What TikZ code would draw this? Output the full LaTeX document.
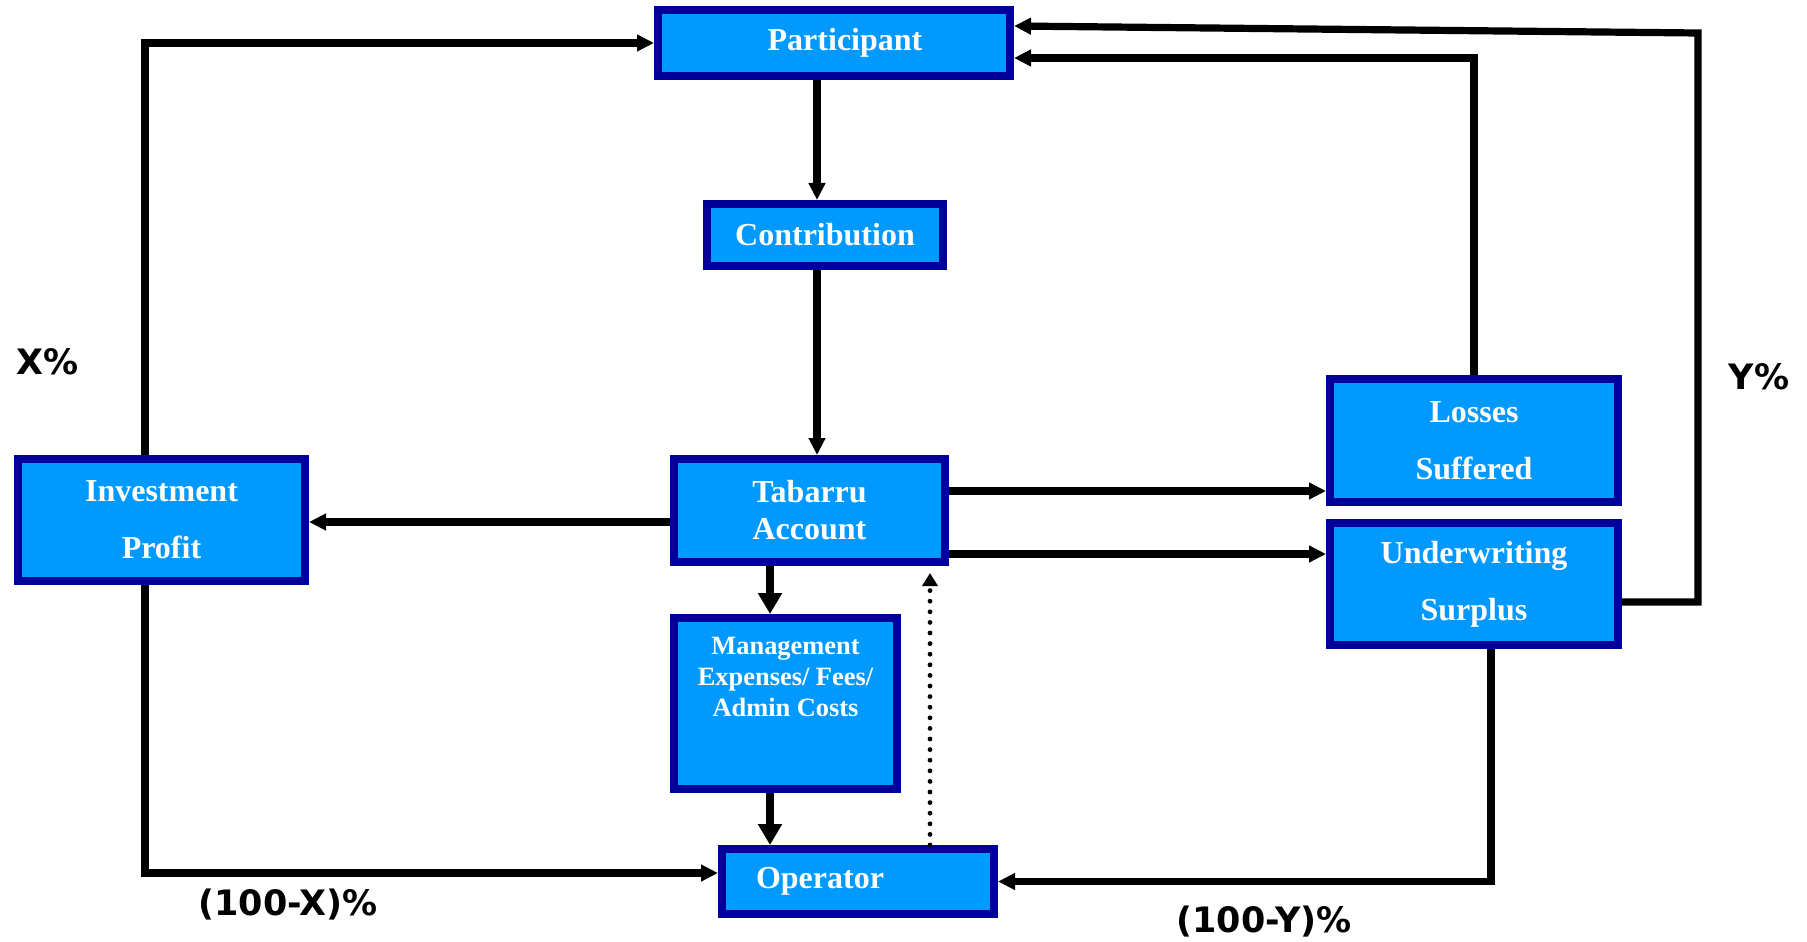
\documentclass[tikz,border=0pt]{standalone}
\usepackage{fontspec}
\setmainfont{Liberation Serif}
\newfontfamily\labfont{DejaVu Sans}
\usetikzlibrary{arrows.meta}
\definecolor{boxfill}{HTML}{0099FF}
\definecolor{boxline}{HTML}{000099}
\tikzset{blk/.style={draw=boxline,fill=boxfill,line width=4pt,inner sep=0pt,text=white,align=center,font=\fontsize{16}{18.5}\selectfont\bfseries},
    flow/.style={line width=3.6pt,-{Triangle[length=8.5pt,width=8pt]}},
    bigflow/.style={line width=4.2pt,-{Triangle[length=10.5pt,width=11.5pt]}},
    dotflow/.style={line width=2.4pt,line cap=round,dash pattern=on 0pt off 5.3pt,shorten >=3.5pt,-{Triangle[length=6.5pt,width=7.5pt]}},
    pct/.style={font=\fontsize{17.5}{20}\selectfont\labfont\bfseries}}

\begin{document}
\begin{tikzpicture}[x=0.5pt,y=-0.5pt]
                \useasboundingbox (0,0) rectangle (1807,941);
                \node[blk,minimum width=176pt,minimum height=33pt] (part) at (834,43) {\hspace*{11pt}Participant};
                \node[blk,minimum width=118pt,minimum height=31pt] (contrib) at (825,235) {Contribution};
                \node[blk,minimum width=135.5pt,minimum height=51.5pt] (tab) at (809.5,510.5) {Tabarru\\Account};
                \node[blk,minimum width=111.5pt,minimum height=85.5pt,font=\fontsize{13.2}{15.5}\selectfont\bfseries] (mgmt) at (785.5,703.5)
                    {\parbox[c][66pt][t]{110pt}{\centering Management\\Expenses/ Fees/\\Admin Costs}};
                \node[blk,minimum width=136pt,minimum height=32.5pt] (oper) at (858,881.5) {Operator\hspace*{38pt}};
                \node[blk,minimum width=143.5pt,minimum height=61pt] (inv) at (161.5,520) {Investment\\[10pt]Profit};
                \node[blk,minimum width=144pt,minimum height=61.5pt] (loss) at (1474,440.5) {Losses\\[10pt]Suffered};
                \node[blk,minimum width=144pt,minimum height=61pt] (uw) at (1474,584) {Underwriting\\[10pt]Surplus};
                \coordinate (ytop) at (1698,33);

                \draw[flow] ([xshift=-8.5pt]part.south) -- ([xshift=-8.5pt]part.south |- contrib.north);
                \draw[flow] ([xshift=-4pt]contrib.south) -- ([xshift=-4pt]contrib.south |- tab.north);
                \draw[flow] ([yshift=-5.75pt]tab.west) -- ([yshift=-5.75pt]tab.west -| inv.east);
                \draw[flow] ([yshift=9.75pt]tab.east) -- ([yshift=9.75pt]tab.east -| loss.west);
                \draw[flow] ([yshift=-21.75pt]tab.east) -- ([yshift=-21.75pt]tab.east -| uw.west);
                \draw[bigflow] ([xshift=-19.75pt]tab.south) -- ([xshift=-19.75pt]tab.south |- mgmt.north);
                \draw[bigflow] ([xshift=-7.75pt]mgmt.south) -- ([xshift=-7.75pt]mgmt.south |- oper.north);
                \draw[dotflow] ([xshift=36pt]oper.north) -- ([xshift=36pt]oper.north |- tab.south);
                \draw[flow] ([xshift=-8.25pt]inv.north) |- (part.west);
                \draw[flow] ([xshift=-8.25pt]inv.south) |- ([yshift=4.25pt]oper.west);
                \draw[flow] (loss.north) |- ([yshift=-7.5pt]part.east);
                \draw[flow] ([yshift=-9pt]uw.east) -| (ytop) -- ([yshift=8.5pt]part.east);
                \draw[flow] ([xshift=8.5pt]uw.south) |- (oper.east);

                \node[pct] (xlab) at (48,362) {X\%};
                \node[pct] (ylab) at (1759,377) {Y\%};
                \node[pct] (xrest) at (288,905) {(100-X)\%};
                \node[pct] (yrest) at (1264,922) {(100-Y)\%};
            \end{tikzpicture}
\end{document}
